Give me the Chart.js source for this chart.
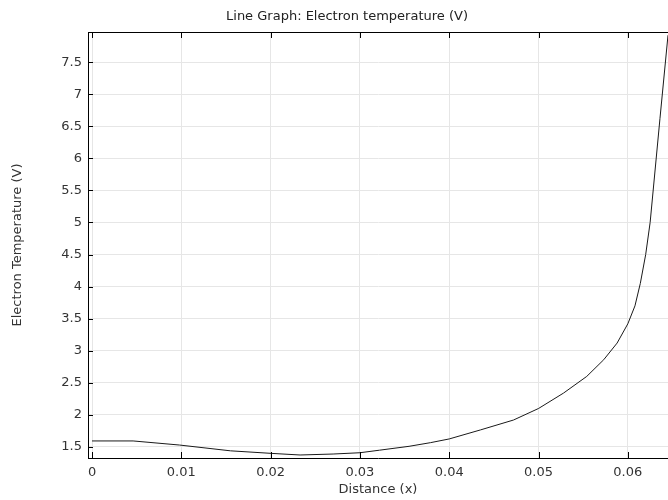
<!DOCTYPE html>
<html>
<head>
<meta charset="utf-8">
<script src="https://cdn.jsdelivr.net/npm/chart.js@4/dist/chart.umd.min.js"></script>
<style>
  body { margin: 0; background: #fff; }
  #wrap { width: 668px; height: 500px; }
</style>
</head>
<body>
<div id="wrap"><canvas id="line-chart"></canvas></div>
<script>
// values
var chartTitle = 'Line Graph: Electron temperature (V)';
var distance = [0, 0.0046, 0.0098, 0.0155, 0.0201, 0.0233, 0.027, 0.030, 0.0322, 0.0355,
                0.0379, 0.040, 0.0435, 0.0472, 0.050, 0.0528, 0.0554, 0.0573, 0.0588, 0.0600,
                0.0608, 0.0614, 0.0620, 0.0625, 0.0636, 0.0645];
var electronTemp = [1.594, 1.594, 1.53, 1.44, 1.40, 1.375, 1.39, 1.41, 1.45, 1.51,
                    1.567, 1.625, 1.766, 1.92, 2.10, 2.34, 2.6, 2.86, 3.12, 3.42,
                    3.7, 4.05, 4.5, 5.0, 6.62, 7.92];
var xTicks = [0, 0.01, 0.02, 0.03, 0.04, 0.05, 0.06];
var yTicks = [1.5, 2, 2.5, 3, 3.5, 4, 4.5, 5, 5.5, 6, 6.5, 7, 7.5];

var points = distance.map(function (d, i) { return { x: d, y: electronTemp[i] }; });

//title (slightly off-centre in the reference), top frame line and inward tick marks
var frameTicks = {
  id: 'frameTicks',
  afterDraw: function (chart) {
    var ctx = chart.ctx, a = chart.chartArea;
    var xs = chart.scales.x, ys = chart.scales.y;
    ctx.save();
    ctx.fillStyle = '#222';
    ctx.font = '13px "DejaVu Sans"';
    ctx.textAlign = 'center';
    ctx.textBaseline = 'middle';
    ctx.fillText(chartTitle, 347, 17);

    ctx.strokeStyle = '#000';
    ctx.lineWidth = 1;
    ctx.beginPath();
    ctx.moveTo(a.left, a.top + 0.5);
    ctx.lineTo(a.right, a.top + 0.5);
    xTicks.forEach(function (v) {
      var px = Math.round(xs.getPixelForValue(v)) + 0.5;
      ctx.moveTo(px, a.top); ctx.lineTo(px, a.top + 6);
      ctx.moveTo(px, a.bottom); ctx.lineTo(px, a.bottom - 6);
    });
    yTicks.forEach(function (v) {
      var py = Math.round(ys.getPixelForValue(v)) + 0.5;
      ctx.moveTo(a.left, py); ctx.lineTo(a.left + 5, py);
    });
    ctx.stroke();
    ctx.restore();
  }
};

Chart.defaults.font.family = 'DejaVu Sans';
Chart.defaults.font.size = 13;
Chart.defaults.color = '#333';

new Chart('line-chart', {
  type: 'line',
  data: {
    datasets: [{
      data: points,
      borderColor: '#1a1a1a',
      borderWidth: 1,
      pointRadius: 0,
      tension: 0,
      fill: false
    }]
  },
  options: {
    responsive: true,
    maintainAspectRatio: false,
    animation: false,
    layout: { padding: { top: 32 } },
    plugins: {
      legend: { display: false },
      tooltip: { enabled: false },
      title: { display: false }
    },
    scales: {
      x: {
        type: 'linear',
        min: -0.00045,
        max: 0.0645,
        afterBuildTicks: function (s) { s.ticks = xTicks.map(function (v) { return { value: v }; }); },
        afterFit: function (s) { s.height = 42; },
        ticks: { padding: 7, color: '#333', callback: function (v) { return String(v); } },
        grid: { color: '#e6e6e6', drawTicks: false },
        border: { color: '#000', width: 1 },
        title: { display: true, text: 'Distance (x)', color: '#333', padding: { top: 0, bottom: 3 } }
      },
      y: {
        type: 'linear',
        min: 1.328,
        max: 7.97,
        afterBuildTicks: function (s) { s.ticks = yTicks.map(function (v) { return { value: v }; }); },
        afterFit: function (s) { s.width = 88; },
        ticks: { padding: 6, color: '#333', callback: function (v) { return String(v); } },
        grid: { color: '#e6e6e6', drawTicks: false },
        border: { color: '#000', width: 1 },
        title: { display: true, text: 'Electron Temperature (V)', color: '#333', padding: { top: 10, bottom: 0 } }
      }
    }
  },
  plugins: [frameTicks]
});
</script>
</body>
</html>
